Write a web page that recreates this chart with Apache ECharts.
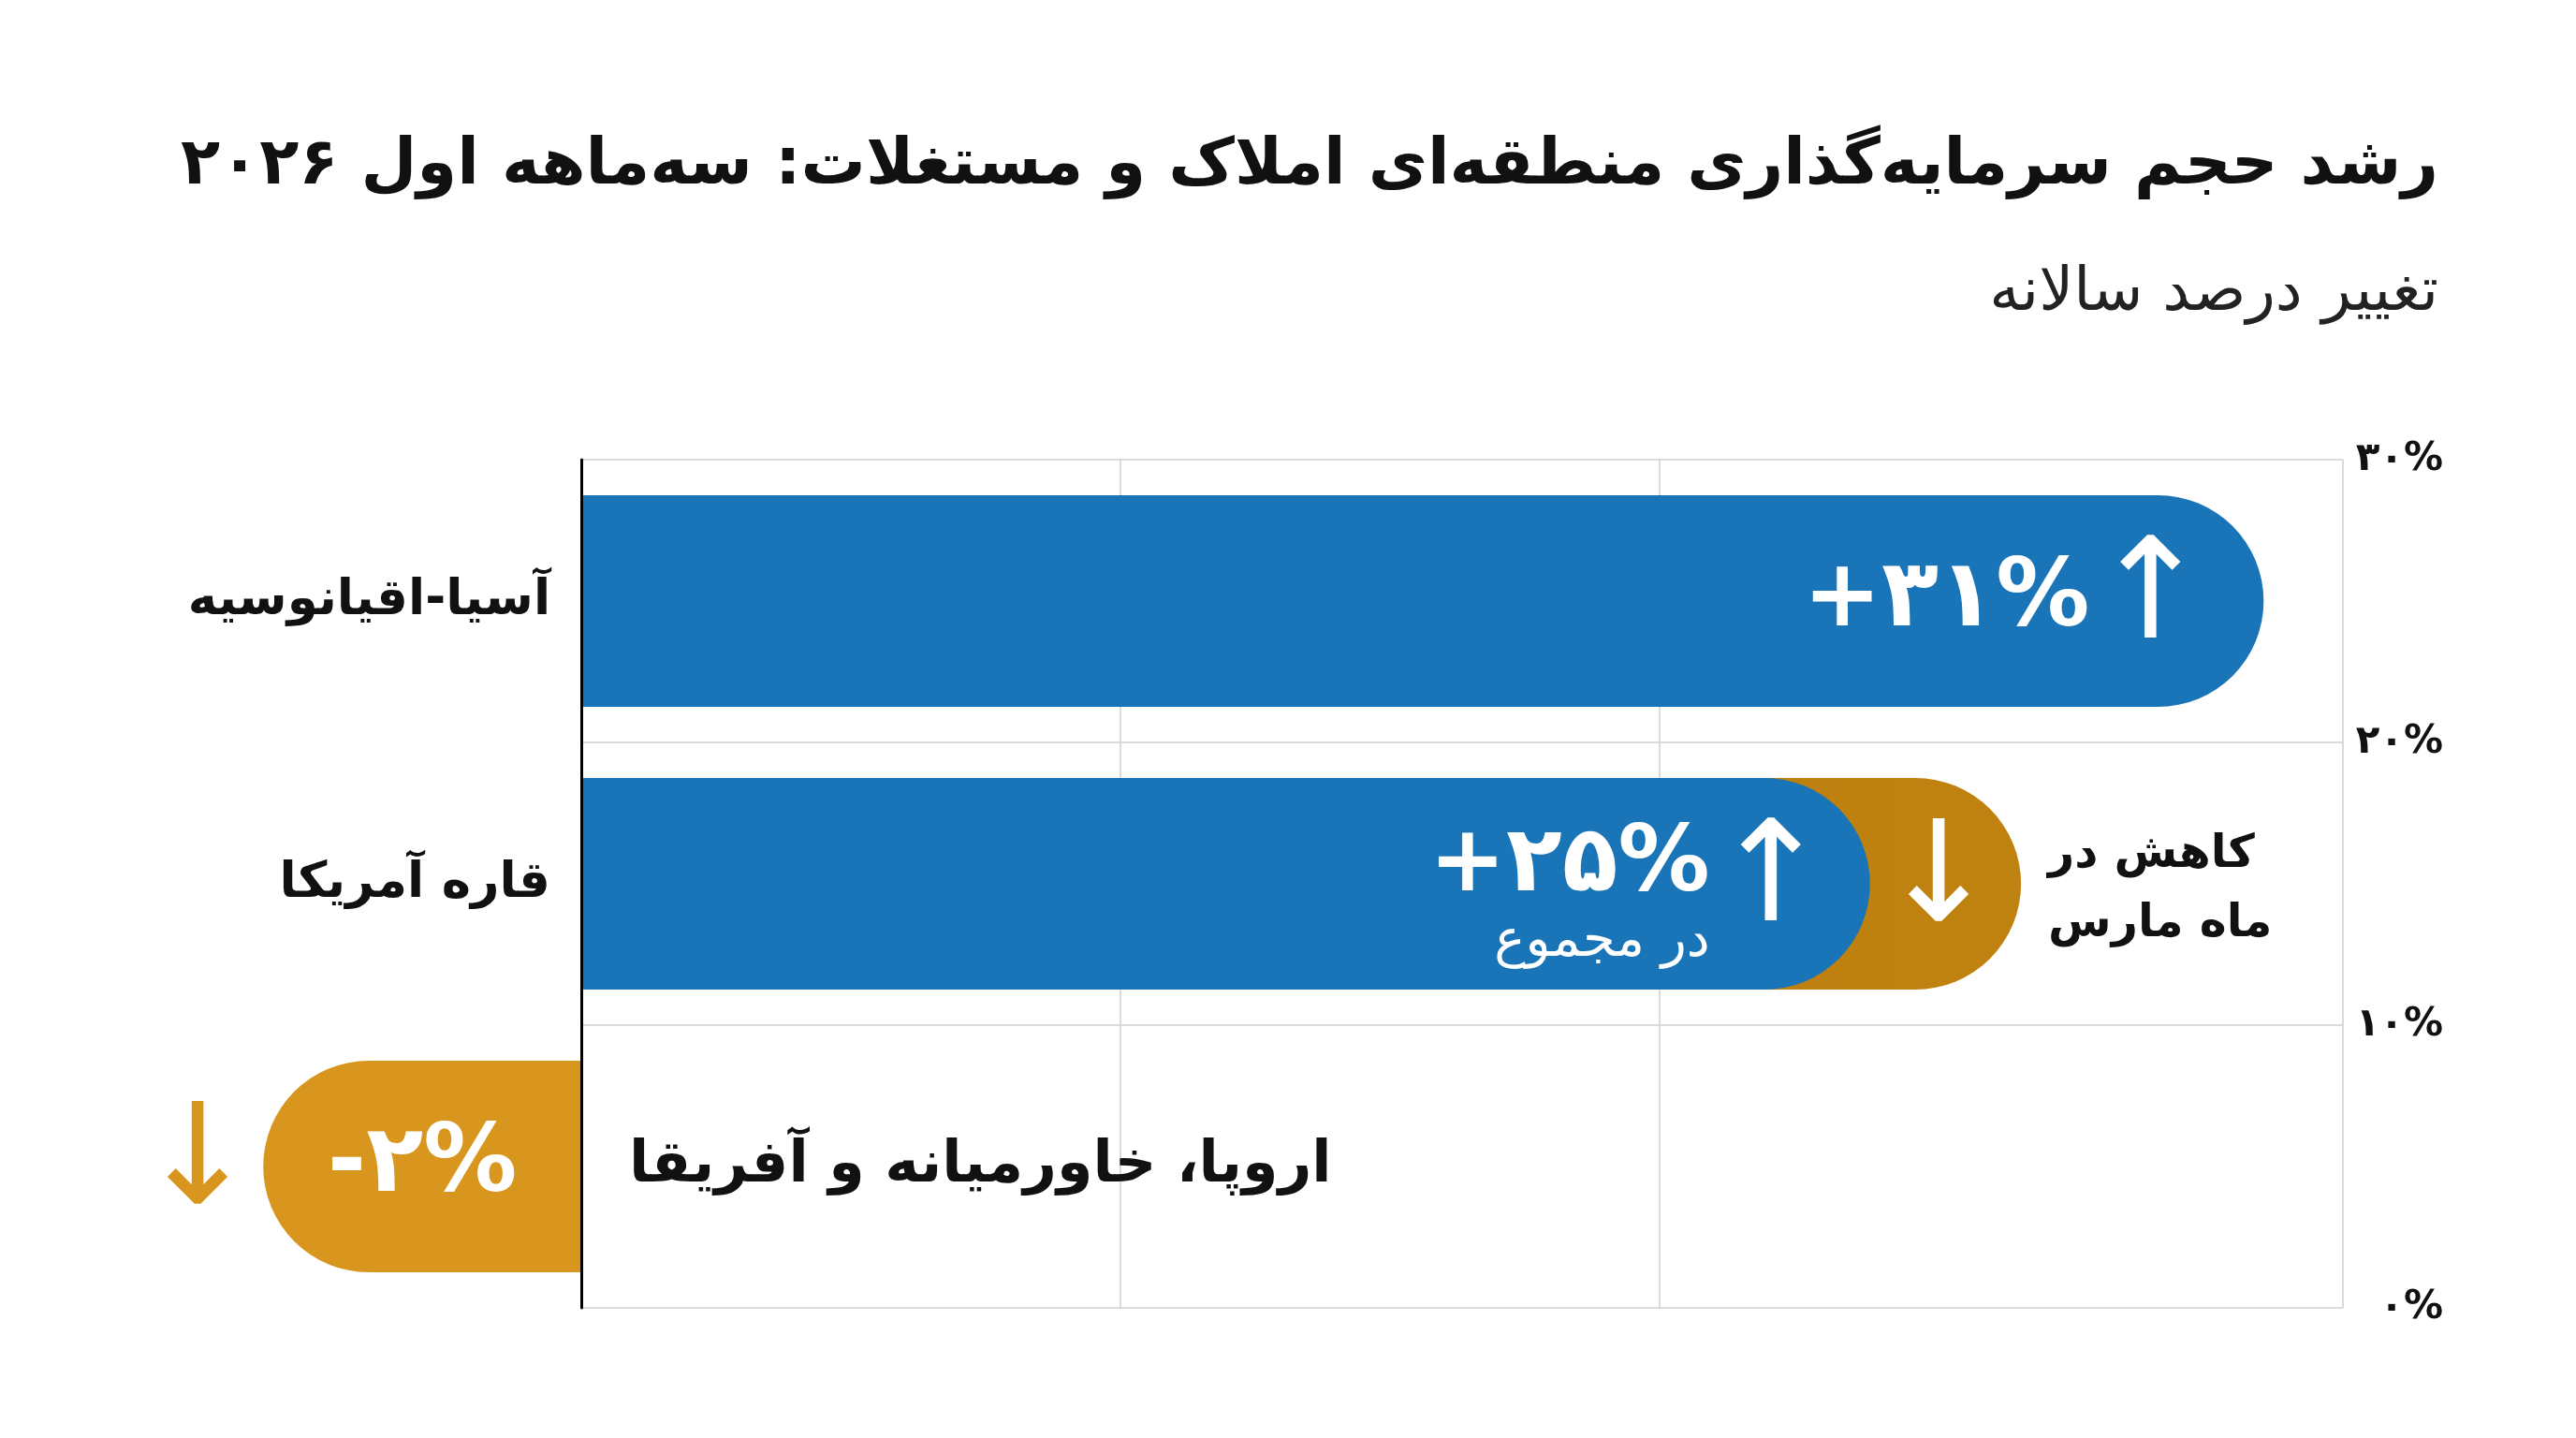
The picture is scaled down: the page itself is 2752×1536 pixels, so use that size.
<!DOCTYPE html>
<html><head><meta charset="utf-8">
<script src="https://cdn.jsdelivr.net/npm/echarts@6/dist/echarts.min.js"></script>
<style>html,body{margin:0;padding:0;background:#fff}#c{width:2752px;height:1536px}</style>
</head><body><div id="c"></div>
<script>
const titleText = 'رشد حجم سرمایه‌گذاری منطقه‌ای املاک و مستغلات: سه‌ماهه اول ۲۰۲۶';
const subtitleText = 'تغییر درصد سالانه';
const categories = ['آسیا-اقیانوسیه', 'قاره آمریکا', 'اروپا، خاورمیانه و آفریقا'];
const valueLabels = ['+۳۱%', '+۲۵%', '-۲%'];
const totalNote = 'در مجموع';
const marchNote = 'کاهش در\nماه مارس';
// bar ends as drawn on the chart's horizontal scale (percent units)
const blueBar = [31.2, 23.9, null];
const orangeBar = [null, 26.7, -5.9];
const tickValues = [0, 10, 20, 30];
const tickLabels = ['۰%', '۱۰%', '۲۰%', '۳۰%'];

const FONT = 'DejaVu Sans';
const BLUE = '#1a75b8';
const ORANGE = '#d9961f';
const GRID = '#cfcfcf';
const TXT = '#111111';

const chart = echarts.init(document.getElementById('c'), null, {renderer: 'canvas'});
const arrowStyle = {fontFamily: FONT, fontSize: 150, fontWeight: 'normal', color: '#fff', width: 90, align: 'center'};

const option = {
  backgroundColor: '#ffffff',
  animation: false,
  title: [
    {text: titleText, right: 142, top: 139,
     textStyle: {fontFamily: FONT, fontSize: 69, fontWeight: 'bold', color: TXT}},
    {text: subtitleText, right: 142, top: 277,
     textStyle: {fontFamily: FONT, fontSize: 65, fontWeight: 'normal', color: '#222'}}
  ],
  grid: [
    {left: 621, right: 249, top: 491, bottom: 139, containLabel: false},
    {left: 45, right: 249, top: 491, bottom: 139, containLabel: false}
  ],
  xAxis: [
    {gridIndex: 0, type: 'value', min: 0, max: 32.67, interval: 10,
     axisLine: {show: false}, axisTick: {show: false}, axisLabel: {show: false},
     splitLine: {show: true, showMinLine: true, showMaxLine: true,
       lineStyle: {width: 1.5, color: [GRID, GRID, GRID, 'rgba(0,0,0,0)', GRID]}}},
    {gridIndex: 1, type: 'value', min: -10, max: 32.67, show: false}
  ],
  yAxis: [
    {gridIndex: 0, type: 'value', position: 'right', min: 0, max: 30, interval: 10,
     axisLine: {show: true, lineStyle: {color: GRID, width: 1.5}},
     axisTick: {show: false},
     splitLine: {show: true, lineStyle: {color: GRID, width: 1.5}},
     axisLabel: {show: true, align: 'right', margin: 107, fontFamily: FONT, fontSize: 42, fontWeight: 'bold', color: TXT,
       formatter: v => tickLabels[tickValues.indexOf(v)] || ''}},
    {gridIndex: 0, type: 'value', position: 'left', min: 0, max: 30, z: 10,
     axisLine: {show: true, onZero: false, lineStyle: {color: '#000', width: 3}},
     axisTick: {show: false}, axisLabel: {show: false}, splitLine: {show: false}},
    {gridIndex: 1, type: 'category', data: categories, inverse: true, show: false}
  ],
  series: [
    {
      type: 'bar', name: 'tail', xAxisIndex: 1, yAxisIndex: 2, barWidth: 226, barGap: '-100%',
      data: orangeBar.map((v, i) => {
        if (v == null) return null;
        if (v > 0) return {
          value: v,
          itemStyle: {borderRadius: [0, 113, 113, 0],
            color: new echarts.graphic.LinearGradient(0, 0, 1, 0, [{offset: 0, color: '#b07310'}, {offset: 1, color: '#c0820f'}])},
          label: {show: true, position: 'insideRight', distance: 43, formatter: '{a|↓}', rich: {a: arrowStyle}}
        };
        return {
          value: v,
          itemStyle: {borderRadius: [113, 0, 0, 113], color: ORANGE},
          label: {show: true, position: 'inside', formatter: valueLabels[i],
            fontFamily: FONT, fontSize: 100, fontWeight: 'bold', color: '#fff'}
        };
      })
    },
    {
      type: 'bar', name: 'main', xAxisIndex: 1, yAxisIndex: 2, barWidth: 226, barGap: '-100%',
      data: blueBar.map((v, i) => v == null ? null : {
        value: v,
        itemStyle: {borderRadius: [0, 113, 113, 0], color: BLUE},
        label: {show: true, position: 'insideRight', distance: i === 0 ? 76 : 61,
          formatter: '{a|↑}', rich: {a: arrowStyle}}
      })
    },
    {
      type: 'bar', name: 'labels', xAxisIndex: 1, yAxisIndex: 2, barWidth: 226, barGap: '-100%', silent: true,
      itemStyle: {color: 'rgba(0,0,0,0)'},
      data: [
        {value: blueBar[0], label: {show: true, position: 'insideRight', distance: 186,
          formatter: valueLabels[0], fontFamily: FONT, fontSize: 100, fontWeight: 'bold', color: '#fff'}},
        {value: blueBar[1], label: {show: true, position: 'insideRight', distance: 171, offset: [0, 14],
          formatter: '{v|' + valueLabels[1] + '}\n{s|' + totalNote + '}',
          rich: {v: {fontFamily: FONT, fontSize: 98, fontWeight: 'bold', color: '#fff', align: 'right', lineHeight: 96},
                 s: {fontFamily: FONT, fontSize: 56, fontWeight: 'normal', color: '#fff', align: 'right', lineHeight: 64}}}},
        {value: orangeBar[2], label: {show: true, position: 'left', distance: 25,
          formatter: '{a|↓}', rich: {a: Object.assign({}, arrowStyle, {color: ORANGE})}}}
      ]
    },
    {
      type: 'bar', name: 'note', xAxisIndex: 1, yAxisIndex: 2, barWidth: 226, barGap: '-100%', silent: true,
      itemStyle: {color: 'rgba(0,0,0,0)'},
      data: orangeBar.map((v, i) => i === 1 ? {value: v, label: {show: true, position: 'right', distance: 29, offset: [0, 6],
        formatter: marchNote, fontFamily: FONT, fontSize: 49, fontWeight: 'bold', color: TXT, lineHeight: 74, align: 'left'}} : null)
    },
    {
      type: 'scatter', name: 'cats', xAxisIndex: 1, yAxisIndex: 2, symbolSize: 0, silent: true,
      itemStyle: {opacity: 1},
      data: categories.map((c, i) => ({
        value: [0, i],
        label: i < 2
          ? {show: true, position: 'left', distance: 33, formatter: c, fontFamily: FONT, fontSize: 53, fontWeight: 'bold', color: TXT}
          : {show: true, position: 'right', distance: 51, formatter: c, fontFamily: FONT, fontSize: 62, fontWeight: 'bold', color: TXT}
      }))
    }
  ]
};
chart.setOption(option);
</script>
</body></html>
